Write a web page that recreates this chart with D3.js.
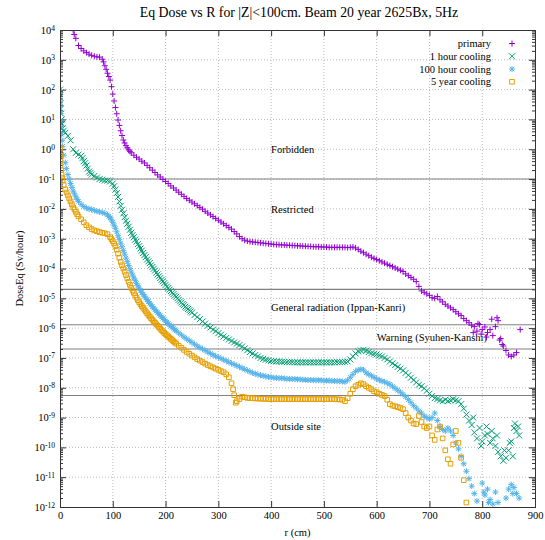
<!DOCTYPE html>
<html>
<head>
<meta charset="utf-8">
<script src="https://cdnjs.cloudflare.com/ajax/libs/d3/7.8.5/d3.min.js"></script>
<style>
body { margin: 0; background: #fff; }
text { font-family: "Liberation Serif", "Times New Roman", serif; fill: #000; }
</style>
</head>
<body>
<script>
// [r (cm), log10 of dose (Sv/hour)]
var primary = [[25,3.98],[27,3.85],[30,3.72],[35,3.48],[40,3.38],[45,3.30],[50,3.24],[55,3.19],[60,3.15],[65,3.12],[70,3.10],[75,3.09],[80,3.02],[85,2.80],[90,2.55],[95,2.32],[100,1.85],[105,1.40],[110,0.98],[115,0.62],[120,0.31],[125,0.12],[130,-0.02],[135,-0.12],[140,-0.20],[145,-0.27],[150,-0.33],[155,-0.40],[160,-0.46],[165,-0.54],[170,-0.62],[175,-0.70],[180,-0.78],[185,-0.86],[190,-0.93],[195,-1.01],[200,-1.08],[205,-1.15],[210,-1.23],[215,-1.30],[220,-1.37],[225,-1.44],[230,-1.51],[235,-1.58],[240,-1.65],[245,-1.71],[250,-1.77],[255,-1.83],[260,-1.89],[265,-1.95],[270,-2.01],[275,-2.08],[280,-2.14],[285,-2.20],[290,-2.26],[295,-2.32],[300,-2.38],[305,-2.44],[310,-2.50],[315,-2.56],[320,-2.62],[325,-2.68],[330,-2.76],[335,-2.84],[340,-2.93],[345,-3.00],[350,-3.05],[355,-3.08],[360,-3.10],[365,-3.11],[370,-3.12],[375,-3.13],[380,-3.14],[385,-3.15],[390,-3.16],[395,-3.17],[400,-3.18],[405,-3.19],[410,-3.20],[415,-3.20],[420,-3.21],[425,-3.21],[430,-3.22],[435,-3.22],[440,-3.23],[445,-3.23],[450,-3.24],[455,-3.24],[460,-3.25],[465,-3.25],[470,-3.26],[475,-3.26],[480,-3.27],[485,-3.27],[490,-3.27],[495,-3.28],[500,-3.28],[505,-3.28],[510,-3.29],[515,-3.29],[520,-3.29],[525,-3.29],[530,-3.29],[535,-3.29],[540,-3.29],[545,-3.30],[550,-3.29],[555,-3.28],[560,-3.31],[565,-3.36],[570,-3.42],[575,-3.47],[580,-3.52],[585,-3.57],[590,-3.62],[595,-3.66],[600,-3.70],[605,-3.74],[610,-3.78],[615,-3.82],[620,-3.86],[625,-3.90],[630,-3.94],[635,-3.98],[640,-4.02],[645,-4.06],[650,-4.10],[655,-4.18],[660,-4.24],[665,-4.30],[670,-4.36],[675,-4.44],[680,-4.60],[685,-4.75],[690,-4.80],[695,-4.85],[700,-4.90],[705,-4.98],[710,-5.00],[715,-4.94],[720,-5.05],[725,-5.12],[730,-5.20],[735,-5.26],[740,-5.32],[745,-5.38],[750,-5.45],[755,-5.52],[760,-5.58],[765,-5.68],[770,-5.75],[775,-5.82],[780,-5.90],[783,-6.15],[785,-5.95],[790,-6.10],[792,-5.85],[795,-5.88],[798,-6.20],[800,-6.05],[805,-5.96],[808,-6.30],[810,-6.15],[815,-6.05],[818,-5.70],[820,-6.25],[825,-5.95],[828,-5.65],[830,-5.75],[833,-6.40],[835,-6.35],[838,-6.55],[840,-6.60],[845,-6.75],[850,-6.90],[855,-6.95],[860,-6.90],[865,-6.82],[872,-6.05],
  [82.5,2.93],[87.5,2.68],[92.5,2.44],[97.5,2.10],[102.5,1.62],[107.5,1.19],[112.5,0.80],[117.5,0.46],[122.5,0.21],[127.5,0.05],[132.5,-0.07]];

var cool1h = [[0,2.00],[0,1.75],[1,1.55],[1,1.35],[2,1.20],[3,1.00],[4,0.85],[5,0.70],[7,0.62],[10,0.55],[15,0.45],[20,0.30],[25,0.00],[30,-0.12],[35,-0.18],[40,-0.22],[45,-0.40],[50,-0.55],[55,-0.75],[60,-0.85],[65,-0.90],[70,-0.95],[75,-1.00],[80,-1.02],[85,-1.05],[90,-1.05],[95,-1.08],[100,-1.15],[105,-1.35],[110,-1.60],[115,-1.90],[120,-2.15],[125,-2.40],[130,-2.60],[135,-2.80],[140,-2.95],[145,-3.10],[150,-3.25],[155,-3.40],[160,-3.55],[165,-3.70],[170,-3.82],[175,-3.95],[180,-4.07],[185,-4.20],[190,-4.32],[195,-4.43],[200,-4.55],[205,-4.66],[210,-4.76],[215,-4.86],[220,-4.95],[225,-5.05],[230,-5.14],[235,-5.23],[240,-5.32],[245,-5.40],[250,-5.48],[255,-5.56],[260,-5.63],[265,-5.70],[270,-5.78],[275,-5.85],[280,-5.92],[285,-5.98],[290,-6.05],[295,-6.10],[300,-6.17],[305,-6.22],[310,-6.28],[315,-6.33],[320,-6.38],[325,-6.43],[330,-6.48],[335,-6.52],[340,-6.57],[345,-6.62],[350,-6.68],[355,-6.74],[360,-6.80],[365,-6.85],[370,-6.90],[375,-6.95],[380,-7.00],[385,-7.03],[390,-7.06],[395,-7.08],[400,-7.10],[405,-7.11],[410,-7.12],[415,-7.12],[420,-7.13],[425,-7.13],[430,-7.14],[435,-7.14],[440,-7.14],[445,-7.15],[450,-7.15],[455,-7.15],[460,-7.15],[465,-7.15],[470,-7.15],[475,-7.15],[480,-7.15],[485,-7.15],[490,-7.15],[495,-7.15],[500,-7.15],[505,-7.15],[510,-7.15],[515,-7.15],[520,-7.15],[525,-7.14],[530,-7.14],[535,-7.14],[540,-7.13],[545,-7.12],[550,-7.05],[555,-6.95],[560,-6.85],[565,-6.78],[570,-6.75],[575,-6.73],[580,-6.76],[585,-6.80],[590,-6.84],[595,-6.86],[600,-6.88],[605,-6.92],[610,-6.95],[615,-7.00],[620,-7.05],[625,-7.12],[630,-7.18],[635,-7.24],[640,-7.30],[645,-7.36],[650,-7.42],[655,-7.50],[660,-7.58],[665,-7.66],[670,-7.74],[675,-7.82],[680,-7.90],[685,-7.95],[690,-8.02],[695,-8.10],[700,-8.20],[705,-8.28],[710,-8.35],[715,-8.38],[720,-8.42],[725,-8.45],[730,-8.40],[735,-8.45],[740,-8.42],[745,-8.38],[750,-8.42],[755,-8.45],[760,-8.55],[765,-8.70],[770,-8.90],[775,-9.10],[780,-9.25],[783,-9.00],[785,-9.50],[790,-9.70],[795,-9.35],[798,-9.95],[800,-9.80],[805,-9.60],[808,-9.30],[810,-9.55],[815,-9.85],[818,-9.45],[820,-9.70],[825,-9.95],[828,-9.60],[830,-10.15],[835,-10.30],[840,-10.45],[842,-10.10],[845,-10.35],[850,-10.10],[852,-9.85],[855,-9.80],[858,-10.30],[860,-9.35],[862,-9.20],[865,-9.45],[868,-9.30],[870,-9.60],
  [42.5,-0.30],[47.5,-0.47],[52.5,-0.65],[57.5,-0.80],[102.5,-1.24],[107.5,-1.47],[112.5,-1.75],[117.5,-2.03],[122.5,-2.28],[127.5,-2.50],[132.5,-2.70],[137.5,-2.88],[142.5,-3.03],[147.5,-3.18],[152.5,-3.33],[157.5,-3.48],[162.5,-3.62],[167.5,-3.76],[172.5,-3.89],[177.5,-4.01],[182.5,-4.14],[187.5,-4.26],[192.5,-4.38],[197.5,-4.49],[202.5,-4.61],[207.5,-4.71],[212.5,-4.81],[217.5,-4.91],[222.5,-5.00],[227.5,-5.10],[232.5,-5.19],[237.5,-5.28],[242.5,-5.36],[247.5,-5.44]];

var cool100h = [[0,1.60],[0,1.40],[1,1.20],[1,0.95],[2,0.75],[3,0.50],[4,0.30],[5,0.10],[7,-0.20],[10,-0.45],[12,-0.65],[15,-0.85],[20,-1.15],[25,-1.40],[30,-1.60],[35,-1.75],[40,-1.85],[45,-1.92],[50,-1.97],[55,-2.00],[60,-2.02],[65,-2.05],[70,-2.08],[75,-2.10],[80,-2.12],[85,-2.15],[90,-2.20],[95,-2.30],[100,-2.45],[105,-2.65],[110,-2.90],[115,-3.15],[120,-3.40],[125,-3.65],[130,-3.90],[135,-4.12],[140,-4.32],[145,-4.50],[150,-4.66],[155,-4.80],[160,-4.93],[165,-5.05],[170,-5.17],[175,-5.28],[180,-5.38],[185,-5.48],[190,-5.58],[195,-5.67],[200,-5.76],[205,-5.85],[210,-5.93],[215,-6.01],[220,-6.09],[225,-6.16],[230,-6.23],[235,-6.30],[240,-6.36],[245,-6.42],[250,-6.48],[255,-6.54],[260,-6.60],[265,-6.65],[270,-6.70],[275,-6.75],[280,-6.80],[285,-6.85],[290,-6.90],[295,-6.94],[300,-6.98],[305,-7.02],[310,-7.06],[315,-7.10],[320,-7.14],[325,-7.18],[330,-7.22],[335,-7.26],[340,-7.30],[345,-7.34],[350,-7.38],[355,-7.42],[360,-7.46],[365,-7.50],[370,-7.53],[375,-7.56],[380,-7.58],[385,-7.60],[390,-7.62],[395,-7.64],[400,-7.65],[405,-7.66],[410,-7.67],[415,-7.68],[420,-7.68],[425,-7.69],[430,-7.70],[435,-7.70],[440,-7.71],[445,-7.71],[450,-7.72],[455,-7.72],[460,-7.73],[465,-7.73],[470,-7.74],[475,-7.74],[480,-7.75],[485,-7.75],[490,-7.75],[495,-7.75],[500,-7.76],[505,-7.76],[510,-7.76],[515,-7.77],[520,-7.77],[525,-7.78],[530,-7.78],[535,-7.79],[540,-7.80],[545,-7.75],[550,-7.65],[555,-7.55],[560,-7.45],[565,-7.40],[570,-7.38],[575,-7.40],[580,-7.50],[585,-7.55],[590,-7.60],[595,-7.65],[600,-7.70],[605,-7.74],[610,-7.78],[615,-7.80],[620,-7.85],[625,-7.88],[630,-7.95],[635,-8.02],[640,-8.08],[645,-8.15],[650,-8.22],[655,-8.30],[660,-8.40],[665,-8.50],[670,-8.60],[675,-8.68],[680,-8.78],[685,-8.85],[690,-8.95],[695,-9.00],[700,-9.05],[705,-9.00],[710,-8.85],[715,-9.10],[720,-9.30],[725,-9.40],[730,-9.45],[735,-9.35],[740,-9.45],[745,-9.60],[750,-9.85],[755,-10.05],[760,-10.30],[765,-10.55],[770,-10.80],[775,-11.05],[780,-11.30],[785,-11.55],[790,-11.80],[800,-11.20],[803,-11.50],[805,-11.60],[810,-11.40],[812,-11.85],[815,-11.75],[820,-11.90],[825,-11.50],[830,-11.85],[845,-11.70],[850,-11.40],[855,-11.25],[858,-11.55],[860,-11.35],[865,-11.55],[870,-11.70],
  [17.5,-1.00],[22.5,-1.28],[27.5,-1.50],[32.5,-1.68],[92.5,-2.25],[97.5,-2.37],[102.5,-2.55],[107.5,-2.77],[112.5,-3.02],[117.5,-3.27],[122.5,-3.52],[127.5,-3.77],[132.5,-4.01],[137.5,-4.22],[142.5,-4.41],[147.5,-4.58],[152.5,-4.73],[157.5,-4.87],[162.5,-4.99],[167.5,-5.11],[172.5,-5.22],[177.5,-5.33],[182.5,-5.43],[187.5,-5.53],[192.5,-5.62],[197.5,-5.71],[202.5,-5.80],[207.5,-5.89],[212.5,-5.97],[217.5,-6.05]];

var cool5y = [[0,0.05],[0,-0.20],[1,-0.35],[1,-0.55],[2,-0.70],[3,-0.85],[4,-0.95],[5,-1.05],[7,-1.20],[10,-1.35],[15,-1.55],[20,-1.75],[25,-1.95],[30,-2.10],[35,-2.25],[40,-2.35],[45,-2.45],[50,-2.55],[55,-2.62],[60,-2.68],[65,-2.72],[70,-2.75],[75,-2.78],[80,-2.80],[85,-2.82],[90,-2.85],[95,-2.95],[100,-3.08],[105,-3.25],[110,-3.50],[115,-3.78],[120,-4.00],[125,-4.22],[130,-4.45],[135,-4.65],[140,-4.82],[145,-4.98],[150,-5.13],[155,-5.26],[160,-5.38],[165,-5.50],[170,-5.61],[175,-5.72],[180,-5.82],[185,-5.92],[190,-6.02],[195,-6.11],[200,-6.20],[205,-6.28],[210,-6.36],[215,-6.44],[220,-6.52],[225,-6.59],[230,-6.66],[235,-6.73],[240,-6.80],[245,-6.86],[250,-6.92],[255,-6.98],[260,-7.04],[265,-7.09],[270,-7.14],[275,-7.19],[280,-7.24],[285,-7.28],[290,-7.32],[295,-7.36],[300,-7.40],[305,-7.44],[310,-7.48],[315,-7.55],[320,-7.65],[325,-7.85],[328,-8.05],[330,-8.25],[333,-8.50],[335,-8.45],[340,-8.38],[345,-8.30],[350,-8.32],[355,-8.34],[360,-8.35],[365,-8.35],[370,-8.36],[375,-8.36],[380,-8.37],[385,-8.37],[390,-8.37],[395,-8.38],[400,-8.38],[405,-8.38],[410,-8.38],[415,-8.38],[420,-8.38],[425,-8.38],[430,-8.38],[435,-8.38],[440,-8.38],[445,-8.38],[450,-8.38],[455,-8.38],[460,-8.38],[465,-8.38],[470,-8.38],[475,-8.38],[480,-8.38],[485,-8.38],[490,-8.38],[495,-8.38],[500,-8.38],[505,-8.38],[510,-8.38],[515,-8.38],[520,-8.38],[525,-8.39],[530,-8.39],[535,-8.40],[540,-8.45],[545,-8.35],[550,-8.20],[555,-8.05],[560,-7.95],[565,-7.90],[570,-7.85],[575,-7.88],[580,-7.95],[585,-8.00],[590,-8.05],[595,-8.12],[600,-8.15],[605,-8.20],[610,-8.24],[615,-8.28],[620,-8.40],[625,-8.55],[630,-8.60],[635,-8.62],[640,-8.65],[645,-8.68],[650,-8.72],[655,-8.85],[660,-9.00],[665,-9.10],[670,-9.20],[675,-9.22],[680,-8.95],[685,-9.15],[690,-9.30],[695,-9.35],[700,-9.30],[705,-9.60],[710,-9.75],[715,-9.40],[720,-9.30],[725,-9.70],[730,-10.10],[735,-10.40],[740,-10.55],[745,-9.90],[750,-9.45],[755,-9.85],[760,-10.35],[765,-11.10],[770,-11.85],
  [12.5,-1.45],[17.5,-1.65],[22.5,-1.85],[27.5,-2.02],[32.5,-2.18],[97.5,-3.01],[102.5,-3.16],[107.5,-3.37],[112.5,-3.64],[117.5,-3.89],[122.5,-4.11],[127.5,-4.33],[132.5,-4.55],[137.5,-4.74],[142.5,-4.90],[147.5,-5.06],[152.5,-5.20],[157.5,-5.32],[162.5,-5.44],[167.5,-5.56],[172.5,-5.67],[177.5,-5.77],[182.5,-5.87],[187.5,-5.97],[192.5,-6.07],[197.5,-6.16],[202.5,-6.24],[207.5,-6.32],[212.5,-6.40],[217.5,-6.48]];

var seriesNames = ["primary", "1 hour cooling", "100 hour cooling", "5 year cooling"];
var seriesColors = ["#9400d3", "#009e73", "#56b4e9", "#e69f00"];
var seriesMarks = ["plus", "cross", "star", "square"];

// dose limit lines (Sv/hour) and the zone labels between them
var limitDoses = [1e-1, 2e-5, 1.3e-6, 2e-7, 5.5e-9];
var zoneNames = ["Forbidden", "Restricted", "General radiation (Ippan-Kanri)", "Warning (Syuhen-Kanshi)", "Outside site"];
var zoneR = [400, 400, 400, 600, 400];
var zoneDose = [1, 1e-2, 5e-6, 5e-7, 5e-10];

var xTicks = [0, 100, 200, 300, 400, 500, 600, 700, 800, 900];
var yExponents = [4, 3, 2, 1, 0, -1, -2, -3, -4, -5, -6, -7, -8, -9, -10, -11, -12];

var svgWidth = 545;
var svgHeight = 540;
var Margin = {top: 30, right: 10, bottom: 33, left: 60};
var chartWidth = svgWidth - Margin.left - Margin.right;
var chartHeight = svgHeight - Margin.top - Margin.bottom;

var svg = d3.select("body").append("svg")
  .attr("width", svgWidth)
  .attr("height", svgHeight)
  .style("background", "#fff");

var chartGroup = svg.append("g")
  .attr("transform", `translate(${Margin.left}, ${Margin.top})`);

var xScale = d3.scaleLinear().domain([0, 900]).range([0, chartWidth]);
var yScale = d3.scaleLog().domain([1e-12, 1e4]).range([chartHeight, 0]);

var yTickValues = yExponents.map(e => Math.pow(10, e));
var yMinor = [];
yExponents.slice(1).forEach(function(e) {
  for (var m = 2; m < 10; m++) yMinor.push(m * Math.pow(10, e));
});

// grid
chartGroup.append("g").selectAll("line")
  .data(xTicks.slice(1, -1))
  .enter().append("line")
  .attr("x1", d => xScale(d)).attr("x2", d => xScale(d))
  .attr("y1", 0).attr("y2", chartHeight)
  .attr("stroke", "#bbb").attr("stroke-dasharray", "1,2");
chartGroup.append("g").selectAll("line")
  .data(yTickValues.slice(1, -1))
  .enter().append("line")
  .attr("x1", 0).attr("x2", chartWidth)
  .attr("y1", d => yScale(d)).attr("y2", d => yScale(d))
  .attr("stroke", "#bbb").attr("stroke-dasharray", "1,2");

// limit lines
chartGroup.append("g").selectAll("line")
  .data(limitDoses)
  .enter().append("line")
  .attr("x1", 0).attr("x2", chartWidth)
  .attr("y1", d => yScale(d)).attr("y2", d => yScale(d))
  .attr("stroke", "#808080").attr("stroke-width", 1.1);

chartGroup.append("g").selectAll("text")
  .data(zoneNames)
  .enter().append("text")
  .attr("x", (d, i) => xScale(zoneR[i]))
  .attr("y", (d, i) => yScale(zoneDose[i]))
  .attr("dy", "0.35em")
  .style("font-size", "10.5px")
  .text(d => d);

// axes, ticks pointing inward
function styleAxis(g) {
  g.select(".domain").remove();
  g.selectAll(".tick line").attr("stroke", "#333");
}
chartGroup.append("g")
  .attr("transform", `translate(0, ${chartHeight})`)
  .call(d3.axisBottom(xScale).tickValues(xTicks).tickSize(-6).tickPadding(5))
  .call(styleAxis)
  .selectAll("text").style("font-size", "10.5px").style("font-family", "Liberation Serif");
chartGroup.append("g")
  .call(d3.axisTop(xScale).tickValues(xTicks).tickSize(-6).tickFormat(""))
  .call(styleAxis);

var leftAxis = chartGroup.append("g")
  .call(d3.axisLeft(yScale).tickValues(yTickValues).tickSize(-6).tickPadding(5).tickFormat(""))
  .call(styleAxis);
leftAxis.selectAll(".tick text").each(function(d) {
  var t = d3.select(this)
    .style("font-size", "10.5px").style("font-family", "Liberation Serif")
    .attr("dy", "0.32em");
  t.append("tspan").text("10");
  t.append("tspan").attr("dy", "-0.45em").style("font-size", "7.5px")
    .text(String(Math.round(Math.log10(d))));
});
chartGroup.append("g")
  .call(d3.axisLeft(yScale).tickValues(yMinor).tickSize(-3).tickFormat(""))
  .call(styleAxis);
chartGroup.append("g")
  .attr("transform", `translate(${chartWidth}, 0)`)
  .call(d3.axisRight(yScale).tickValues(yTickValues).tickSize(-6).tickFormat(""))
  .call(styleAxis);
chartGroup.append("g")
  .attr("transform", `translate(${chartWidth}, 0)`)
  .call(d3.axisRight(yScale).tickValues(yMinor).tickSize(-3).tickFormat(""))
  .call(styleAxis);

// markers
function markPath(kind, s) {
  if (kind == "plus") return `M${-s},0H${s}M0,${-s}V${s}`;
  if (kind == "cross") return `M${-s},${-s}L${s},${s}M${-s},${s}L${s},${-s}`;
  if (kind == "star") return `M${-s},0H${s}M0,${-s}V${s}M${-s*0.75},${-s*0.75}L${s*0.75},${s*0.75}M${-s*0.75},${s*0.75}L${s*0.75},${-s*0.75}`;
  return `M${-s},${-s}H${s}V${s}H${-s}Z`;
}

chartGroup.append("clipPath").attr("id", "plotclip")
  .append("rect").attr("width", chartWidth).attr("height", chartHeight);

var allSeries = [primary, cool1h, cool100h, cool5y];
var plotArea = chartGroup.append("g").attr("clip-path", "url(#plotclip)");
allSeries.forEach(function(series, i) {
  plotArea.append("g").selectAll("path")
    .data(series)
    .enter().append("path")
    .attr("transform", d => `translate(${xScale(d[0])}, ${yScale(Math.pow(10, d[1]))})`)
    .attr("d", markPath(seriesMarks[i], i == 3 ? 2.3 : 3))
    .attr("fill", "none")
    .attr("stroke", seriesColors[i])
    .attr("stroke-width", 1);
});

// border
chartGroup.append("rect")
  .attr("width", chartWidth).attr("height", chartHeight)
  .attr("fill", "none").attr("stroke", "#333").attr("stroke-width", 1)
  .attr("shape-rendering", "crispEdges");

// legend
var legend = chartGroup.append("g");
seriesNames.forEach(function(name, i) {
  var ly = 13.5 + i * 12.75;
  legend.append("text")
    .attr("x", 431).attr("y", ly).attr("dy", "0.35em")
    .attr("text-anchor", "end")
    .style("font-size", "10.5px")
    .text(name);
  legend.append("path")
    .attr("transform", `translate(452, ${ly})`)
    .attr("d", markPath(seriesMarks[i], i == 3 ? 2.3 : 3))
    .attr("fill", "none")
    .attr("stroke", seriesColors[i]);
});

// titles
svg.append("text")
  .attr("x", 299).attr("y", 17)
  .attr("text-anchor", "middle")
  .style("font-size", "13.8px")
  .text("Eq Dose vs R for |Z|<100cm. Beam 20 year 2625Bx, 5Hz");
svg.append("text")
  .attr("x", Margin.left + chartWidth / 2).attr("y", 536)
  .attr("text-anchor", "middle")
  .style("font-size", "10.5px")
  .text("r (cm)");
svg.append("text")
  .attr("transform", `translate(19, ${Margin.top + chartHeight / 2}) rotate(-90)`)
  .attr("text-anchor", "middle")
  .attr("dy", "0.35em")
  .style("font-size", "10.5px")
  .text("DoseEq (Sv/hour)");
</script>
</body>
</html>
